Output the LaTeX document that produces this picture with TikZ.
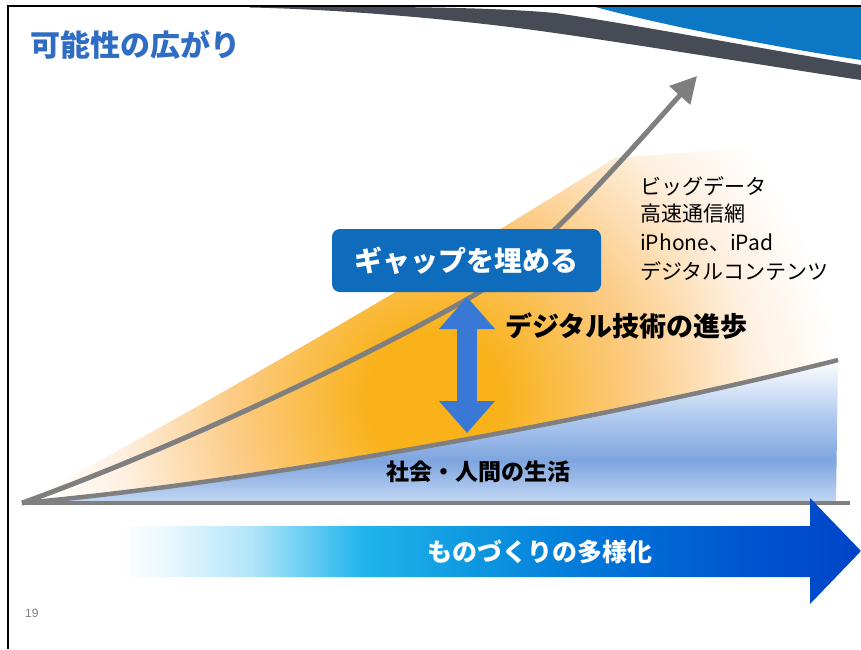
\documentclass[tikz,border=0pt]{standalone}
\usepackage{fontspec}
\setmainfont{Noto Sans CJK JP}
\newfontfamily\latfont{Liberation Sans}
\usetikzlibrary{arrows.meta}
\definecolor{titleblue}{HTML}{2E6DC3}
\definecolor{swdark}{HTML}{464B56}
\definecolor{swblue}{HTML}{0B77C5}
\definecolor{curvegray}{HTML}{7F7F7F}
\definecolor{boxblue}{HTML}{0F6BBB}
\definecolor{arrblue}{HTML}{3A78D5}
\definecolor{orgA}{HTML}{F9B21A}
\definecolor{orgB}{HTML}{FCCB85}
\definecolor{orgC}{HTML}{FEF0E0}
\definecolor{blA}{HTML}{7EA5DF}
\definecolor{blB}{HTML}{B3CCEF}
\definecolor{blC}{HTML}{C6D9F3}
\definecolor{cyA}{HTML}{EEF9FE}
\definecolor{cyB}{HTML}{B2E5F9}
\definecolor{cyC}{HTML}{22B5EC}
\definecolor{cyD}{HTML}{0D96DF}
\definecolor{cyE}{HTML}{0070D8}
\definecolor{cyF}{HTML}{0052CE}
\definecolor{cyG}{HTML}{0044C8}
\pgfdeclareradialshading{orangeglow}{\pgfpoint{0bp}{0bp}}{color(0bp)=(orgA); color(4bp)=(orgA); color(12bp)=(orgB); color(19bp)=(orgC); color(24bp)=(white); color(50bp)=(white)}
\pgfdeclareverticalshading{bluefill}{100bp}{color(0bp)=(blC); color(25bp)=(blC); color(40bp)=(blA); color(56bp)=(blB); color(75bp)=(white); color(100bp)=(white)}
\pgfdeclarehorizontalshading{bararrow}{100bp}{color(0bp)=(white); color(25bp)=(white); color(27.7bp)=(cyA); color(33.8bp)=(cyB); color(41.2bp)=(cyC); color(49.3bp)=(cyD); color(58.7bp)=(cyE); color(68.2bp)=(cyF); color(75bp)=(cyG); color(100bp)=(cyG)}
\tikzset{
  curve/.style={draw=curvegray, line width=5pt},
  lbl/.style={inner sep=0pt, text=black},
  gapbox/.style={fill=boxblue, rounded corners=8pt, text=white, inner sep=0pt, font=\bfseries\fontsize{28}{34}\selectfont},
}
\begin{document}
\begin{tikzpicture}[x=1pt,y=-1pt]
\useasboundingbox (0,0) rectangle (861,649);
\fill[white] (0,0) rectangle (861,649);
\coordinate (O) at (22,503);
\coordinate (Utip) at (697,76);
\coordinate (Lend) at (838,360);
\coordinate (Bend) at (850,503);
% orange region
\begin{scope}
\clip (O) .. controls (250,380) and (450,262) .. (615,158) -- (850,140) -- (845,360) -- (Lend) .. controls (600,420) and (250,483) .. (O) -- cycle;
\shade[shading=orangeglow] (435,400) circle (420pt);
\end{scope}
% blue region
\begin{scope}
\clip (O) .. controls (250,483) and (600,420) .. (Lend) -- (836,503) -- cycle;
\shade[shading=bluefill] (0,360) rectangle (861,504);
\end{scope}
% baseline and curves
\draw[draw=curvegray, line width=4pt] (O) -- (Bend);
\draw[draw=curvegray, line width=4.5pt] (O) .. controls (250,483) and (600,420) .. (Lend);
\draw[curve, -{Triangle[length=26pt,width=27pt]}] (O) .. controls (180,446) and (370,355) .. (471,297) .. controls (530,263) and (600,185) .. (Utip);
% double arrow
\coordinate (Dtop) at (467,297);
\coordinate (Dbot) at (467,433);
\draw[draw=arrblue, line width=20pt, {Triangle[length=32pt,width=54pt]}-{Triangle[length=32pt,width=54pt]}] (Dtop) -- (Dbot);
% box
\node[gapbox, minimum width=269pt, minimum height=63pt] (gap) at (466.5,260.5) {ギャップを埋める};
% list
\node[lbl, anchor=west, font=\fontsize{21}{25}\selectfont] (l1) at (640,186) {ビッグデータ};
\node[lbl, anchor=west, font=\fontsize{21}{25}\selectfont] (l2) at (640,214) {高速通信網};
\node[lbl, anchor=west, font=\fontsize{21}{25}\selectfont] (l3) at (640,243) {iPhone、iPad};
\node[lbl, anchor=west, font=\fontsize{21}{25}\selectfont] (l4) at (640,271) {デジタルコンテンツ};
\node[lbl, anchor=west, font=\bfseries\fontsize{27}{32}\selectfont] (prog) at (505,326) {デジタル技術の進歩};
\node[lbl, font=\bfseries\fontsize{23}{28}\selectfont] (life) at (478,472) {社会・人間の生活};
% bottom arrow
\shade[shading=bararrow] (120,526) -- (810,526) -- (810,498) -- (861,551) -- (810,604) -- (810,577) -- (120,577) -- cycle;
\node[lbl, text=white, font=\bfseries\fontsize{25}{30}\selectfont] (mono) at (540,552) {ものづくりの多様化};
% page number
\node[lbl, anchor=west, text=gray, font=\latfont\fontsize{12}{14}\selectfont] (pg) at (25,613) {19};
% top swoosh
\fill[swdark] (250,7) .. controls (420,6) and (500,8) .. (555,13) .. controls (620,22) and (780,52) .. (861,65) -- (861,80) .. controls (780,68) and (640,45) .. (555,33) .. controls (450,18) and (330,9) .. (250,7.5) -- cycle;
\fill[swblue] (592,6) -- (861,6) -- (861,60) .. controls (780,48) and (660,25) .. (592,6) -- cycle;
% frame
\draw[black, line width=2pt] (8,649) -- (8,6) -- (861,6);
% title
\node[lbl, anchor=west, text=titleblue, font=\bfseries\fontsize{30}{36}\selectfont] (title) at (30,45) {可能性の広がり};
\end{tikzpicture}
\end{document}
